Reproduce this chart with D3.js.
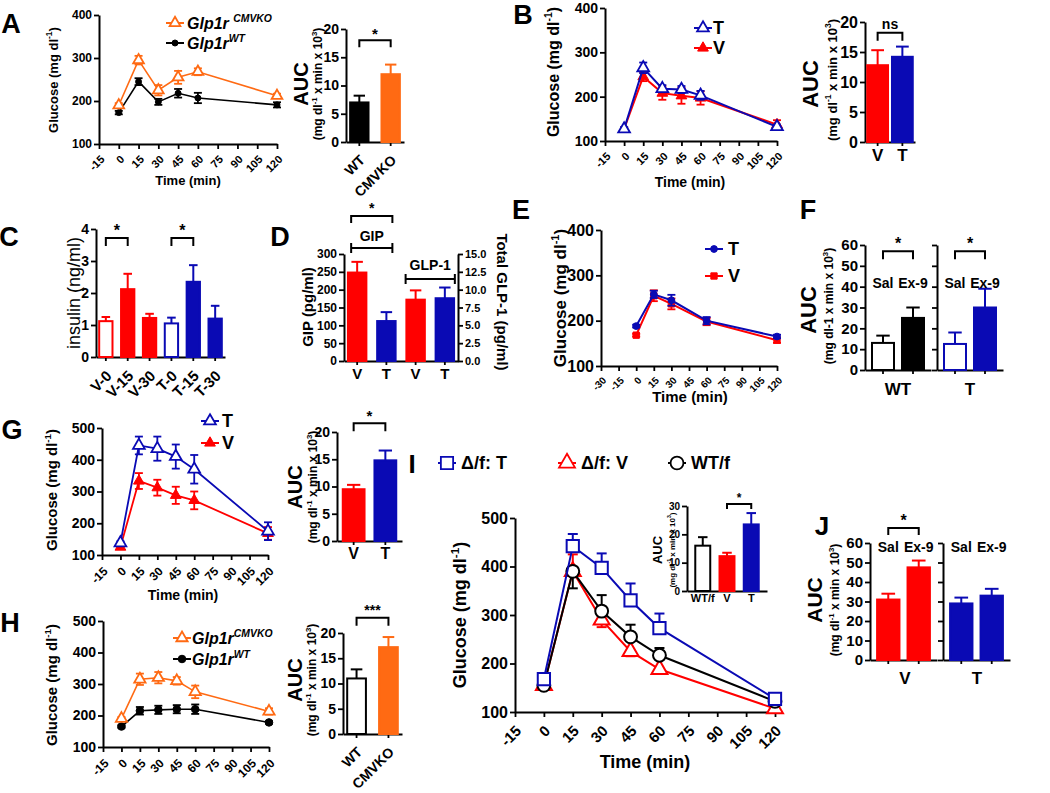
<!DOCTYPE html>
<html>
<head>
<meta charset="utf-8">
<script src="https://cdn.jsdelivr.net/npm/d3@7"></script>
<style>
  body { margin: 0; background: #fff; }
</style>
</head>
<body>
<div id="content"></div>
<script>
// ---------- data ----------
var minutes = [0, 15, 30, 45, 60, 120];
var timeTicks = [-15, 0, 15, 30, 45, 60, 75, 90, 105, 120];
var glucoseTicks = [100, 200, 300, 400];
var glucoseTicks5 = [100, 200, 300, 400, 500];
var auc20Ticks = [0, 5, 10, 15, 20];

// A
var aKo = [190, 295, 225, 255, 268, 212];
var aKoErr = [5, 10, 12, 15, 8, 5];
var aWt = [173, 245, 198, 218, 207, 191];
var aWtErr = [4, 8, 7, 10, 12, 6];
var aAucLabels = ['WT', 'CMVKO'];
var aAuc = [7.0, 12.0];
var aAucErr = [1.2, 1.7];

// B
var bT = [127, 265, 218, 216, 203, 132];
var bTErr = [4, 12, 8, 8, 10, 5];
var bV = [127, 245, 208, 202, 197, 137];
var bVErr = [4, 10, 15, 18, 15, 10];
var bAucLabels = ['V', 'T'];
var bAuc = [12.8, 14.2];
var bAucErr = [2.5, 1.7];

// C
var cLabels = ['V-0', 'V-15', 'V-30', 'T-0', 'T-15', 'T-30'];
var cInsulin = [1.12, 2.12, 1.22, 1.05, 2.35, 1.2];
var cErr = [0.13, 0.48, 0.13, 0.18, 0.52, 0.4];

// D
var dLabels = ['V', 'T', 'V', 'T'];
var dGip = [248, 112];
var dGipErr = [30, 25];
var dGlp = [8.6, 8.8];
var dGlpErr = [1.3, 1.5];

// E
var eMinutes = [0, 15, 30, 60, 120];
var eTicks = [-30, -15, 0, 15, 30, 45, 60, 75, 90, 105, 120];
var eT = [188, 258, 245, 200, 165];
var eTErr = [3, 8, 12, 8, 4];
var eV = [168, 255, 237, 198, 157];
var eVErr = [3, 12, 12, 8, 6];

// F
var treatLabels = ['Sal', 'Ex-9'];
var fWt = [13, 25];
var fWtErr = [3.5, 5];
var fT = [12.5, 30];
var fTErr = [5.5, 9];

// G
var gT = [138, 445, 435, 410, 370, 175];
var gTErr = [5, 28, 38, 38, 45, 28];
var gV = [125, 333, 312, 288, 272, 168];
var gVErr = [5, 25, 25, 27, 28, 20];
var gAuc = [9.5, 14.8];
var gAucErr = [0.8, 1.8];

// H
var hKo = [190, 315, 320, 310, 275, 213];
var hKoErr = [5, 18, 18, 12, 20, 10];
var hWt = [165, 215, 218, 220, 220, 178];
var hWtErr = [4, 12, 13, 13, 15, 4];
var hAuc = [11.0, 17.2];
var hAucErr = [1.8, 2.0];

// I  (signed errors: + drawn up, - drawn down)
var iT = [168, 442, 397, 330, 273, 127];
var iTErr = [8, 25, 30, 35, 30, 5];
var iV = [155, 390, 290, 225, 188, 107];
var iVErr = [-5, 35, -15, -10, -8, -5];
var iWt = [155, 390, 308, 255, 217, 122];
var iWtErr = [5, -35, 33, 25, 15, 5];
var iAucLabels = ['WT/f', 'V', 'T'];
var iAuc = [16, 12.3, 23.5];
var iAucErr = [3, 1.2, 4];

// J
var jV = [31, 47.5];
var jVErr = [3, 3.5];
var jT = [29, 33];
var jTErr = [3, 3.5];

// ---------- helpers ----------
var FONT = '"Liberation Sans", Arial, sans-serif';
var RED = '#ff0000', BLUE = '#0a0ab4', ORANGE = '#ff6a13', BLACK = '#000';

var svg = d3.select('#content').append('svg')
  .attr('width', 1050).attr('height', 793)
  .style('background', '#fff');

var glucoseLabel = [['Glucose (mg dl'], ['-1', 'sup'], [')']];
var aucSub = [['(mg dl'], ['-1', 'sup'], [' x min x 10'], ['3', 'sup'], [')']];

function txt(g, x, y, parts, o) {
  o = o || {};
  var size = o.size || 14;
  var t = g.append('text')
    .attr('transform', 'translate(' + x + ',' + y + ')' + (o.rot ? ' rotate(' + o.rot + ')' : ''))
    .attr('text-anchor', o.anchor || 'middle')
    .attr('fill', o.color || '#000')
    .style('font-family', FONT)
    .style('font-size', size + 'px')
    .style('font-weight', o.weight || 'bold')
    .style('font-style', o.italic ? 'italic' : 'normal');
  if (typeof parts === 'string') parts = [[parts]];
  var raised = false;
  parts.forEach(function(p, i) {
    var sup = p[1] === 'sup';
    var dy = i === 0 ? size * 0.35 : 0;
    if (sup && !raised) dy -= size * 0.42;
    if (!sup && raised) dy += size * 0.42;
    raised = sup;
    t.append('tspan').attr('dy', dy)
      .style('font-size', sup ? (size * 0.65) + 'px' : null)
      .text(p[0]);
  });
  return t;
}

function styleAxis(a, fs) {
  a.attr('font-family', null).attr('font-size', null);
  a.select('.domain').attr('stroke', '#000').attr('stroke-width', 2);
  a.selectAll('.tick line').attr('stroke', '#000').attr('stroke-width', 1.8);
  a.selectAll('text').attr('fill', '#000')
    .style('font-family', FONT).style('font-size', fs + 'px').style('font-weight', 'bold');
}

function rotateLabels(a, fs) {
  a.selectAll('text')
    .attr('x', 0).attr('y', 0).attr('dy', '0.35em')
    .attr('transform', 'translate(3,' + (fs * 0.75 + 5) + ') rotate(-45)')
    .style('text-anchor', 'end');
}

function errBar(g, cx, yA, yB, capAt, cap, color, w) {
  g.append('line').attr('x1', cx).attr('x2', cx).attr('y1', yA).attr('y2', yB)
    .attr('stroke', color).attr('stroke-width', w || 1.8);
  capAt.forEach(function(yy) {
    g.append('line').attr('x1', cx - cap).attr('x2', cx + cap).attr('y1', yy).attr('y2', yy)
      .attr('stroke', color).attr('stroke-width', w || 1.8);
  });
}

function lineChart(o) {
  var g = svg.append('g');
  var x = d3.scaleLinear().domain(o.xDomain).range(o.xRange);
  var y = d3.scaleLinear().domain(o.yDomain).range(o.yRange);
  var ya = g.append('g').attr('transform', 'translate(' + o.xRange[0] + ',0)')
    .call(d3.axisLeft(y).tickValues(o.yTicks).tickSize(5).tickSizeOuter(0).tickPadding(2));
  var xa = g.append('g').attr('transform', 'translate(0,' + o.yRange[0] + ')')
    .call(d3.axisBottom(x).tickValues(o.xTicks).tickSize(5).tickSizeOuter(0).tickFormat(String));
  styleAxis(ya, o.yFont);
  styleAxis(xa, o.xFont);
  rotateLabels(xa, o.xFont);

  o.series.forEach(function(s) {
    var xs = s.x || o.x;
    var pts = xs.map(function(t, i) { return { t: t, v: s.y[i], e: s.err[i] }; });
    g.append('path').datum(pts)
      .attr('d', d3.line().x(function(d) { return x(d.t); }).y(function(d) { return y(d.v); }))
      .attr('fill', 'none').attr('stroke', s.color).attr('stroke-width', o.lineW || 1.8);
    pts.forEach(function(d) {
      var cx = x(d.t);
      if (s.signed) {
        var end = y(d.v + d.e);
        errBar(g, cx, y(d.v), end, [end], o.cap || 4, s.color, o.errW);
      } else {
        var lo = y(d.v - d.e), hi = y(d.v + d.e);
        errBar(g, cx, lo, hi, [lo, hi], o.cap || 4, s.color, o.errW);
      }
    });
    g.selectAll(null).data(pts).enter().append('path')
      .attr('transform', function(d) { return 'translate(' + x(d.t) + ',' + y(d.v) + ')'; })
      .attr('d', d3.symbol().type(s.sym).size(s.size))
      .attr('fill', s.open ? '#fff' : s.color)
      .attr('stroke', s.color).attr('stroke-width', s.open ? (s.sw || 1.8) : 1);
  });
  return { g: g, x: x, y: y };
}

function barChart(o) {
  var g = svg.append('g');
  var x = d3.scaleBand().domain(d3.range(o.values.length)).range(o.xRange)
    .paddingInner(o.pi == null ? 0.3 : o.pi).paddingOuter(o.po == null ? 0.15 : o.po);
  var y = d3.scaleLinear().domain(o.yDomain).range(o.yRange);
  var ya = g.append('g').attr('transform', 'translate(' + o.xRange[0] + ',0)')
    .call(d3.axisLeft(y).tickValues(o.yTicks).tickSize(5).tickSizeOuter(0).tickPadding(2)
      .tickFormat(o.fmt || null));
  styleAxis(ya, o.yFont);
  if (o.noLabels) ya.selectAll('text').remove();
  var xa = g.append('g').attr('transform', 'translate(0,' + o.yRange[0] + ')')
    .call(d3.axisBottom(x).tickSize(o.xTick == null ? 4 : o.xTick).tickSizeOuter(0)
      .tickFormat(function(i) { return o.labels ? o.labels[i] : ''; }));
  styleAxis(xa, o.labelFont || 14);
  if (o.labelRot) rotateLabels(xa, o.labelFont || 14);
  var bw = x.bandwidth();
  o.values.forEach(function(v, i) {
    var c = o.colors[i];
    var open = o.open && o.open[i];
    g.append('rect')
      .attr('x', x(i) + 1).attr('y', y(v))
      .attr('width', bw - 2).attr('height', y(0) - y(v))
      .attr('fill', open ? '#fff' : c)
      .attr('stroke', c).attr('stroke-width', 2);
    var top = y(v + o.err[i]);
    errBar(g, x(i) + bw / 2, y(v), top, [top], bw * 0.28, c, 2);
  });
  return { g: g, x: x, y: y, bw: bw, cx: function(i) { return x(i) + bw / 2; } };
}

function bracket(x1, x2, y, leg, label, size, gap) {
  svg.append('path')
    .attr('d', 'M' + x1 + ',' + (y + leg) + 'V' + y + 'H' + x2 + 'V' + (y + leg))
    .attr('fill', 'none').attr('stroke', '#000').attr('stroke-width', 2);
  txt(svg, (x1 + x2) / 2, y - (gap || size * 0.45), label, { size: size });
}

function legendItem(x, y, color, sym, size, open, parts, tx, fs, italic) {
  svg.append('line').attr('x1', x - 9).attr('x2', x + 9).attr('y1', y).attr('y2', y)
    .attr('stroke', color).attr('stroke-width', 2);
  svg.append('path').attr('transform', 'translate(' + x + ',' + y + ')')
    .attr('d', d3.symbol().type(sym).size(size))
    .attr('fill', open ? '#fff' : color).attr('stroke', color).attr('stroke-width', open ? 1.8 : 1);
  txt(svg, tx, y, parts, { size: fs, anchor: 'start', italic: italic });
}

function letter(l, x, y, s) { txt(svg, x, y, l, { size: s || 27 }); }

// ---------- A ----------
letter('A', 11, 24);
lineChart({
  x: minutes, xDomain: [-15, 120], xRange: [99, 277], yDomain: [100, 400], yRange: [144, 15],
  xTicks: timeTicks, yTicks: glucoseTicks, yFont: 12, xFont: 11, lineW: 1.6,
  series: [
    { y: aWt, err: aWtErr, color: BLACK, sym: d3.symbolCircle, size: 28 },
    { y: aKo, err: aKoErr, color: ORANGE, sym: d3.symbolTriangle, size: 50, open: true }
  ]
});
txt(svg, 53, 80, glucoseLabel, { size: 13, rot: -90 });
txt(svg, 188, 180, 'Time (min)', { size: 13 });
legendItem(175, 23, ORANGE, d3.symbolTriangle, 50, true, [['Glp1r '], ['CMVKO', 'sup']], 187, 16, true);
legendItem(175, 43, BLACK, d3.symbolCircle, 28, false, [['Glp1r'], ['WT', 'sup']], 187, 16, true);

var aA = barChart({
  values: aAuc, err: aAucErr, labels: aAucLabels, colors: [BLACK, ORANGE],
  xRange: [346, 404], yDomain: [0, 20], yRange: [142, 29], yTicks: auc20Ticks,
  yFont: 14, labelFont: 14, labelRot: true, pi: 0.35, po: 0.1
});
bracket(aA.cx(0), aA.cx(1), aA.y(18), 7, '*', 15);
txt(svg, 301, 84, 'AUC', { size: 20, rot: -90 });
txt(svg, 318, 84, aucSub, { size: 12, rot: -90 });

// ---------- B ----------
letter('B', 523, 15);
lineChart({
  x: minutes, xDomain: [-15, 120], xRange: [605, 777], yDomain: [100, 400], yRange: [141, 8],
  xTicks: timeTicks, yTicks: glucoseTicks, yFont: 14, xFont: 11, lineW: 2,
  series: [
    { y: bV, err: bVErr, color: RED, sym: d3.symbolTriangle, size: 50 },
    { y: bT, err: bTErr, color: BLUE, sym: d3.symbolTriangle, size: 60, open: true }
  ]
});
txt(svg, 553, 72, glucoseLabel, { size: 16, rot: -90 });
txt(svg, 690, 182, 'Time (min)', { size: 14 });
legendItem(703, 28, BLUE, d3.symbolTriangle, 60, true, 'T', 713, 18);
legendItem(703, 48, RED, d3.symbolTriangle, 50, false, 'V', 713, 18);

var bA = barChart({
  values: bAuc, err: bAucErr, labels: bAucLabels, colors: [RED, BLUE],
  xRange: [865, 915], yDomain: [0, 20], yRange: [142, 22], yTicks: auc20Ticks,
  yFont: 16, labelFont: 17, pi: 0.08, po: 0.05
});
bracket(bA.cx(0), bA.cx(1), bA.y(18.2), 8, 'ns', 14, 9);
txt(svg, 810, 84, 'AUC', { size: 22, rot: -90 });
txt(svg, 832, 80, aucSub, { size: 13, rot: -90 });

// ---------- C ----------
letter('C', 9, 237);
var cC = barChart({
  values: cInsulin, err: cErr, labels: cLabels,
  colors: [RED, RED, RED, BLUE, BLUE, BLUE], open: [true, false, false, true, false, false],
  xRange: [96, 225], yDomain: [0, 4], yRange: [357, 229], yTicks: [0, 1, 2, 3, 4],
  fmt: d3.format('d'), yFont: 14, labelFont: 15, labelRot: true, pi: 0.3, po: 0.1
});
bracket(cC.cx(0), cC.cx(1), cC.y(3.72), 8, '*', 16, 8);
bracket(cC.cx(3), cC.cx(4), cC.y(3.72), 8, '*', 16, 8);
txt(svg, 74, 293, 'insulin (ng/ml)', { size: 18, rot: -90, weight: 'normal' });

// ---------- D ----------
letter('D', 280, 237);
(function() {
  var x = d3.scaleBand().domain(d3.range(4)).range([344, 458]).paddingInner(0.3).paddingOuter(0.1);
  var yL = d3.scaleLinear().domain([0, 300]).range([361, 254]);
  var yR = d3.scaleLinear().domain([0, 15]).range([361, 254]);
  var g = svg.append('g');
  var la = g.append('g').attr('transform', 'translate(344,0)')
    .call(d3.axisLeft(yL).tickValues(d3.range(0, 301, 50)).tickSize(5).tickSizeOuter(0).tickPadding(2));
  styleAxis(la, 12);
  var ra = g.append('g').attr('transform', 'translate(458,0)')
    .call(d3.axisRight(yR).tickValues(d3.range(0, 15.1, 2.5)).tickSize(5).tickSizeOuter(0)
      .tickPadding(2).tickFormat(d3.format('.1f')));
  styleAxis(ra, 11);
  var xa = g.append('g').attr('transform', 'translate(0,361)')
    .call(d3.axisBottom(x).tickSize(4).tickSizeOuter(0).tickFormat(function(i) { return dLabels[i]; }));
  styleAxis(xa, 15);
  var bw = x.bandwidth();
  var vals = dGip.concat(dGlp), errs = dGipErr.concat(dGlpErr);
  var cols = [RED, BLUE, RED, BLUE];
  vals.forEach(function(v, i) {
    var y = i < 2 ? yL : yR;
    g.append('rect').attr('x', x(i) + 1).attr('y', y(v)).attr('width', bw - 2)
      .attr('height', y(0) - y(v)).attr('fill', cols[i]).attr('stroke', cols[i]).attr('stroke-width', 2);
    var top = y(v + errs[i]);
    errBar(g, x(i) + bw / 2, y(v), top, [top], bw * 0.28, cols[i], 2);
  });
  var c0 = x(0) + bw / 2, c1 = x(1) + bw / 2, c2 = x(2) + bw / 2, c3 = x(3) + bw / 2;
  // GIP range bar
  g.append('path').attr('d', 'M' + (c0 - 6) + ',248H' + (c1 + 6) + 'M' + (c0 - 6) + ',243V253M' + (c1 + 6) + ',243V253')
    .attr('stroke', '#000').attr('stroke-width', 2).attr('fill', 'none');
  txt(svg, (c0 + c1) / 2, 236, 'GIP', { size: 14 });
  bracket(c0 - 6, c1 + 6, 216, 7, '*', 14, 8);
  // GLP-1 range bar
  g.append('path').attr('d', 'M' + (c2 - 10) + ',279H' + (c3 + 10) + 'M' + (c2 - 10) + ',274V284M' + (c3 + 10) + ',274V284')
    .attr('stroke', '#000').attr('stroke-width', 2).attr('fill', 'none');
  txt(svg, (c2 + c3) / 2, 265, 'GLP-1', { size: 14 });
})();
txt(svg, 308, 307, 'GIP (pg/ml)', { size: 15, rot: -90 });
txt(svg, 502, 302, 'Total GLP-1 (pg/ml)', { size: 15, rot: 90 });

// ---------- E ----------
letter('E', 521, 210);
lineChart({
  x: eMinutes, xDomain: [-30, 120], xRange: [601, 777], yDomain: [100, 400], yRange: [366, 230],
  xTicks: eTicks, yTicks: glucoseTicks, yFont: 16, xFont: 10, lineW: 2,
  series: [
    { y: eV, err: eVErr, color: RED, sym: d3.symbolSquare, size: 40 },
    { y: eT, err: eTErr, color: BLUE, sym: d3.symbolCircle, size: 36 }
  ]
});
txt(svg, 560, 298, glucoseLabel, { size: 17, rot: -90 });
txt(svg, 690, 397, 'Time (min)', { size: 15 });
legendItem(714, 249, BLUE, d3.symbolCircle, 36, false, 'T', 728, 18);
legendItem(714, 276, RED, d3.symbolSquare, 40, false, 'V', 728, 18);

// ---------- F ----------
letter('F', 808, 210);
var fA = barChart({
  values: fWt, err: fWtErr, colors: [BLACK, BLACK], open: [true, false],
  xRange: [865, 931], yDomain: [0, 60], yRange: [370, 245], yTicks: d3.range(0, 61, 10),
  yFont: 15, pi: 0.2, po: 0.2
});
var fB = barChart({
  values: fT, err: fTErr, colors: [BLUE, BLUE], open: [true, false],
  xRange: [937, 1003], yDomain: [0, 60], yRange: [370, 245], yTicks: d3.range(0, 61, 10),
  yFont: 15, pi: 0.2, po: 0.2, noLabels: true
});
[fA, fB].forEach(function(p) {
  txt(svg, p.cx(0), 283, treatLabels[0], { size: 14 });
  txt(svg, p.cx(1), 283, treatLabels[1], { size: 14 });
  bracket(p.cx(0), p.cx(1), p.y(57), 8, '*', 16, 8);
});
txt(svg, 898, 389, 'WT', { size: 17 });
txt(svg, 970, 389, 'T', { size: 17 });
txt(svg, 808, 310, 'AUC', { size: 22, rot: -90 });
txt(svg, 829, 306, [['(mg dl-1 x min x 10'], ['3', 'sup'], [')']], { size: 12, rot: -90 });

// ---------- G ----------
letter('G', 12, 430);
lineChart({
  x: minutes, xDomain: [-15, 120], xRange: [102, 268], yDomain: [100, 500], yRange: [555, 428],
  xTicks: timeTicks, yTicks: glucoseTicks5, yFont: 14, xFont: 12, lineW: 1.8,
  series: [
    { y: gV, err: gVErr, color: RED, sym: d3.symbolTriangle, size: 50 },
    { y: gT, err: gTErr, color: BLUE, sym: d3.symbolTriangle, size: 60, open: true }
  ]
});
txt(svg, 52, 490, [['Glucose  (mg dl'], ['-1', 'sup'], [')']], { size: 15, rot: -90 });
txt(svg, 183, 595, 'Time (min)', { size: 14 });
legendItem(210, 421, BLUE, d3.symbolTriangle, 60, true, 'T', 222, 18);
legendItem(210, 443, RED, d3.symbolTriangle, 50, false, 'V', 222, 18);

var gA = barChart({
  values: gAuc, err: gAucErr, labels: bAucLabels, colors: [RED, BLUE],
  xRange: [337, 402], yDomain: [0, 20], yRange: [541, 432], yTicks: auc20Ticks,
  yFont: 14, labelFont: 16, pi: 0.25, po: 0.15
});
bracket(gA.cx(0), gA.cx(1), gA.y(21.6), 8, '*', 15, 8);
txt(svg, 295, 487, 'AUC', { size: 20, rot: -90 });
txt(svg, 313, 487, aucSub, { size: 12, rot: -90 });

// ---------- H ----------
letter('H', 10, 623);
lineChart({
  x: minutes, xDomain: [-15, 120], xRange: [103, 269], yDomain: [100, 500], yRange: [747, 621],
  xTicks: timeTicks, yTicks: glucoseTicks5, yFont: 14, xFont: 12, lineW: 1.6,
  series: [
    { y: hWt, err: hWtErr, color: BLACK, sym: d3.symbolCircle, size: 45 },
    { y: hKo, err: hKoErr, color: ORANGE, sym: d3.symbolTriangle, size: 55, open: true }
  ]
});
txt(svg, 52, 685, glucoseLabel, { size: 15, rot: -90 });
legendItem(182, 638, ORANGE, d3.symbolTriangle, 55, true, [['Glp1r'], ['CMVKO', 'sup']], 192, 16, true);
legendItem(182, 659, BLACK, d3.symbolCircle, 45, false, [['Glp1r'], ['WT', 'sup']], 192, 16, true);

var hA = barChart({
  values: hAuc, err: hAucErr, labels: aAucLabels, colors: [BLACK, ORANGE], open: [true, false],
  xRange: [343, 402], yDomain: [0, 20], yRange: [734, 633], yTicks: auc20Ticks,
  yFont: 14, labelFont: 14, labelRot: true, pi: 0.35, po: 0.1
});
bracket(hA.cx(0), hA.cx(1), hA.y(23), 8, '***', 14, 8);
txt(svg, 295, 680, 'AUC', { size: 20, rot: -90 });
txt(svg, 312, 680, aucSub, { size: 12, rot: -90 });

// ---------- I ----------
letter('I', 412, 464, 26);
lineChart({
  x: minutes, xDomain: [-15, 120], xRange: [515, 775], yDomain: [100, 500], yRange: [712, 518],
  xTicks: timeTicks, yTicks: glucoseTicks5, yFont: 16, xFont: 15, lineW: 2, errW: 2, cap: 5,
  series: [
    { y: iV, err: iVErr, signed: true, color: RED, sym: d3.symbolTriangle, size: 110, open: true, sw: 2 },
    { y: iWt, err: iWtErr, signed: true, color: BLACK, sym: d3.symbolCircle, size: 130, open: true, sw: 2 },
    { y: iT, err: iTErr, signed: true, color: BLUE, sym: d3.symbolSquare, size: 150, open: true, sw: 2 }
  ]
});
txt(svg, 460, 615, glucoseLabel, { size: 18, rot: -90 });
txt(svg, 645, 762, 'Time (min)', { size: 18 });
legendItem(447, 463, BLUE, d3.symbolSquare, 150, true, 'Δ/f: T', 461, 18);
legendItem(567, 463, RED, d3.symbolTriangle, 110, true, 'Δ/f: V', 581, 18);
legendItem(677, 463, BLACK, d3.symbolCircle, 130, true, 'WT/f', 691, 18);

var iA = barChart({
  values: iAuc, err: iAucErr, labels: iAucLabels, colors: [BLACK, RED, BLUE], open: [true, false, false],
  xRange: [687, 767], yDomain: [0, 30], yRange: [591, 506], yTicks: [0, 10, 20, 30],
  yFont: 10, labelFont: 11, xTick: 0, pi: 0.3, po: 0.3
});
bracket(iA.cx(1), iA.cx(2), 504, 5, '*', 12, 6);
txt(svg, 657, 550, 'AUC', { size: 13, rot: -90 });
txt(svg, 672, 550, aucSub, { size: 8, rot: -90 });

// ---------- J ----------
letter('J', 822, 526, 26);
var jA = barChart({
  values: jV, err: jVErr, colors: [RED, RED],
  xRange: [870, 937], yDomain: [0, 60], yRange: [660, 543], yTicks: d3.range(0, 61, 10),
  yFont: 15, pi: 0.2, po: 0.2
});
var jB = barChart({
  values: jT, err: jTErr, colors: [BLUE, BLUE],
  xRange: [943, 1010], yDomain: [0, 60], yRange: [660, 543], yTicks: d3.range(0, 61, 10),
  yFont: 15, pi: 0.2, po: 0.2, noLabels: true
});
[jA, jB].forEach(function(p) {
  txt(svg, p.cx(0), 547, treatLabels[0], { size: 14 });
  txt(svg, p.cx(1), 547, treatLabels[1], { size: 14 });
});
bracket(jA.cx(0), jA.cx(1), 528, 7, '*', 16, 8);
txt(svg, 905, 678, 'V', { size: 17 });
txt(svg, 977, 678, 'T', { size: 17 });
txt(svg, 815, 600, 'AUC', { size: 21, rot: -90 });
txt(svg, 835, 600, aucSub, { size: 12, rot: -90 });
</script>
</body>
</html>
